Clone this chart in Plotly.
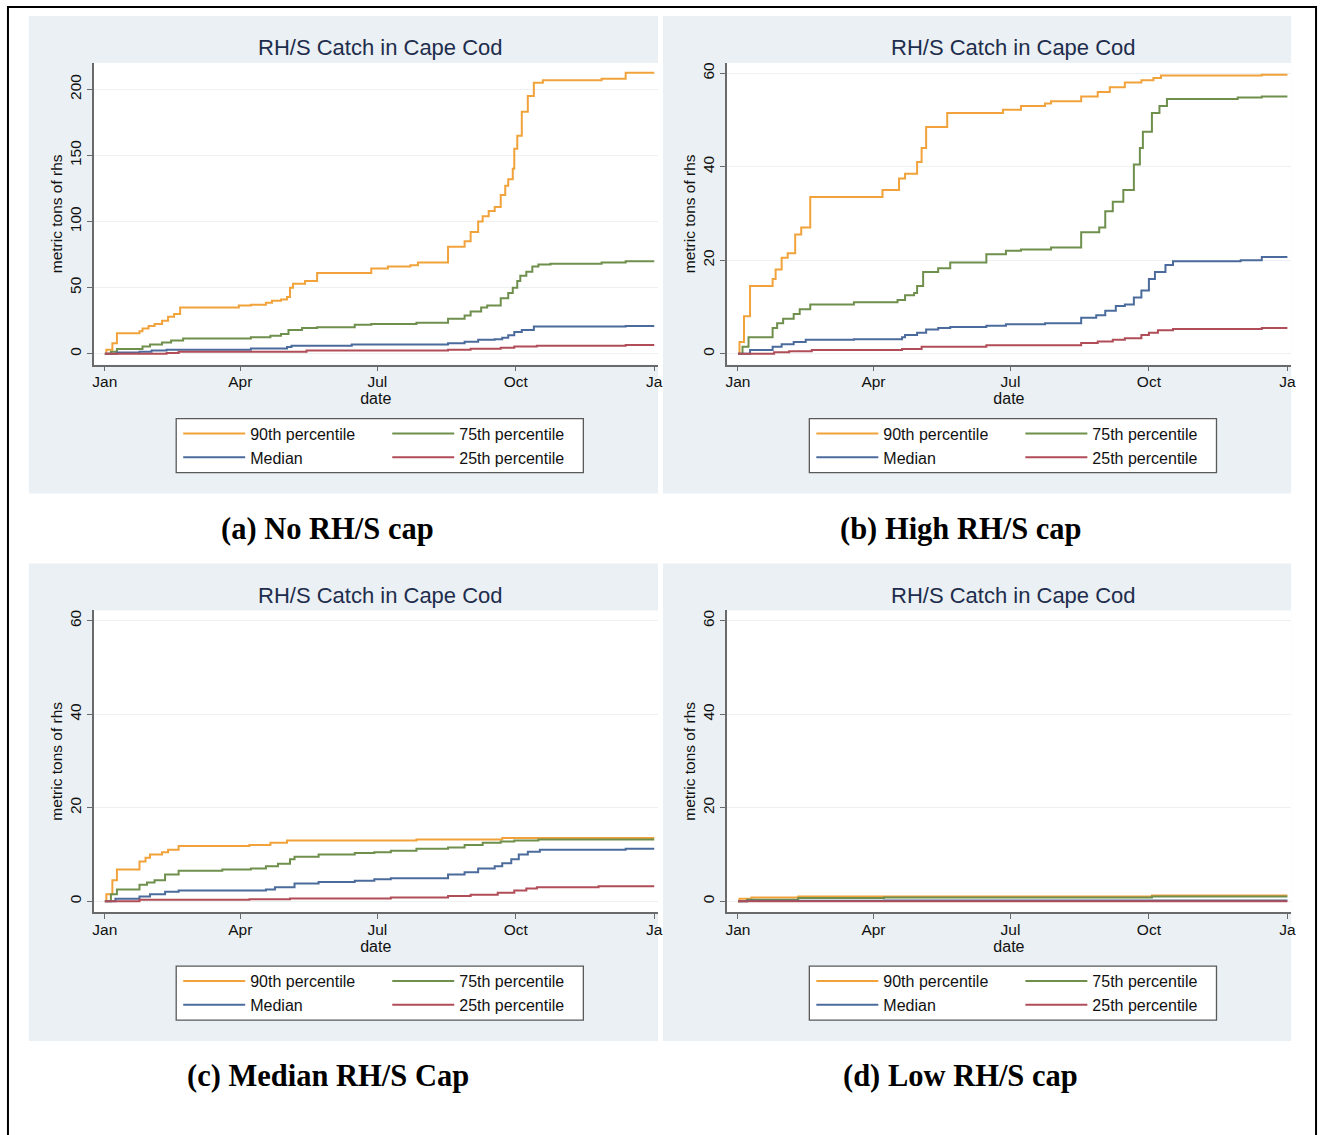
import pandas as pd
import plotly.graph_objects as go

W, H = 1328, 1135
BASE = pd.Timestamp("2015-01-01")

SERIES_NAMES = ["90th percentile", "75th percentile", "Median", "25th percentile"]
SERIES_COLORS = ["#f2a23a", "#6f8f4c", "#4a6b9b", "#b14d58"]

PANEL_TITLES = ["RH/S Catch in Cape Cod"] * 4
CAPTIONS = ["(a) No RH/S cap", "(b) High RH/S cap", "(c) Median RH/S Cap", "(d) Low RH/S cap"]
X_TICK_DATES = ["2015-01-01", "2015-04-01", "2015-07-01", "2015-10-01", "2016-01-01"]
X_TICK_TEXT = ["Jan", "Apr", "Jul", "Oct", "Ja"]
Y_TICKS_A = [0, 50, 100, 150, 200]
Y_TICKS_BCD = [0, 20, 40, 60]

# ---------------- Panel (a) No RH/S cap ----------------
a_p90_day = [0, 1, 5, 8, 23, 25, 29, 33, 38, 42, 46, 50, 89, 97, 107, 111, 117, 121, 123, 125, 133, 141,
             177, 188, 203, 208, 228, 239, 243, 248, 251, 255, 259, 263, 266, 268, 271, 272, 274, 277,
             281, 285, 291, 330, 346, 365]
a_p90_val = [0, 3, 8, 15.5, 17, 19, 21, 22.5, 25, 28, 30, 35, 36.5, 37, 38.5, 40, 41, 43, 50, 53, 55, 61,
             64.5, 66, 67, 69, 81, 85, 92, 100, 104, 108, 111, 120, 127, 132, 140, 155, 165, 183,
             195, 205, 207, 208, 212.5, 212.5]
a_p75_day = [0, 4, 8, 25, 30, 38, 44, 52, 97, 110, 117, 122, 131, 141, 166, 177, 207, 228, 239, 243, 250,
             254, 263, 268, 271, 274, 276, 280, 284, 288, 296, 330, 346, 365]
a_p75_val = [0, 1.5, 3.5, 5.5, 7, 8.5, 10, 11.5, 12.5, 13.5, 15, 18, 19.5, 20, 22, 22.5, 23.5, 26.5, 29, 32, 35,
             36.5, 42, 46, 50, 55, 59, 62, 66, 67.5, 68, 69, 70, 70]
a_p50_day = [0, 8, 23, 31, 41, 97, 121, 124, 164, 228, 239, 248, 259, 264, 268, 272, 277, 285, 346, 365]
a_p50_val = [0, 1, 1.5, 2.5, 3, 4, 5, 6, 7, 8, 9, 10.5, 11, 12, 14, 16.5, 18, 20.5, 21, 21]
a_p25_day = [0, 41, 49, 134, 228, 243, 263, 272, 287, 346, 365]
a_p25_val = [0, 0.5, 1.5, 2.5, 3, 3.8, 4.5, 5.5, 6, 6.5, 6.5]

# ---------------- Panel (b) High RH/S cap ----------------
b_p90_day = [0, 1, 4, 8, 23, 25, 29, 33, 38, 42, 48, 96, 107, 111, 119, 122, 125, 139, 176, 188, 204, 208,
             228, 239, 247, 257, 268, 276, 281, 348, 365]
b_p90_val = [0, 2.5, 8, 14.5, 16, 18, 20.5, 21.5, 25.5, 27, 33.5, 35, 37.5, 38.5, 41, 44, 48.5, 51.5, 52.2, 53,
             53.5, 54, 55, 56, 57, 58, 58.5, 59, 59.5, 59.7, 59.7]
b_p75_day = [0, 3, 7, 23, 26, 30, 37, 41, 48, 77, 106, 111, 117, 119, 123, 133, 141, 165, 178, 188, 208,
             228, 240, 244, 249, 256, 263, 267, 269, 275, 280, 285, 332, 348, 365]
b_p75_val = [0, 1.5, 3.5, 5.5, 6.5, 7.5, 8.5, 9.5, 10.5, 11, 11.5, 12.5, 13, 14.5, 17.5, 18.3, 19.5, 21.3, 22,
             22.3, 22.7, 26, 27, 30.5, 32.5, 35, 40.5, 44, 47.5, 51.5, 53, 54.5, 54.8, 55, 55]
b_p50_day = [0, 8, 23, 29, 37, 45, 77, 109, 111, 119, 125, 133, 141, 165, 178, 204, 228, 238, 244, 251, 257,
             263, 268, 273, 277, 284, 289, 334, 348, 365]
b_p50_val = [0, 0.8, 1.5, 2, 2.5, 3, 3.1, 3.5, 4, 4.5, 5.2, 5.5, 5.7, 6, 6.3, 6.5, 7.7, 8.2, 9.2, 10.2, 10.5,
             12, 13.5, 16, 17.5, 19, 19.8, 20, 20.7, 20.7]
b_p25_day = [0, 24, 34, 49, 109, 122, 165, 228, 239, 249, 257, 268, 273, 279, 289, 348, 365]
b_p25_val = [0, 0.3, 0.5, 0.8, 1, 1.5, 1.8, 2.3, 2.6, 3, 3.3, 4, 4.5, 5, 5.3, 5.5, 5.5]

# ---------------- Panel (c) Median RH/S cap ----------------
c_p90_day = [0, 1, 5, 8, 23, 27, 30, 38, 42, 49, 96, 110, 121, 207, 264, 365]
c_p90_val = [0, 1.5, 4.5, 6.8, 8.5, 9.3, 10, 10.5, 11, 11.8, 12, 12.5, 13, 13.2, 13.5, 13.5]
c_p75_day = [0, 4, 8, 23, 28, 33, 40, 49, 78, 97, 107, 115, 123, 126, 142, 166, 179, 190, 207, 228, 239,
             251, 263, 272, 288, 365]
c_p75_val = [0, 1.5, 2.5, 3.5, 4, 4.5, 5.7, 6.5, 6.8, 7, 7.5, 8, 9, 9.5, 10, 10.3, 10.5, 10.8, 11.2, 11.5,
             12, 12.5, 12.8, 13, 13.2, 13.2]
c_p50_day = [0, 7, 23, 30, 40, 49, 107, 113, 126, 142, 166, 179, 190, 228, 239, 248, 259, 264, 270, 275,
             281, 289, 346, 365]
c_p50_val = [0, 0.5, 1, 1.5, 2, 2.3, 2.5, 3, 3.8, 4.1, 4.4, 4.7, 4.9, 5.7, 6.2, 7, 7.5, 8.1, 9, 10, 10.6,
             11, 11.2, 11.2]
c_p25_day = [0, 23, 96, 123, 190, 228, 243, 261, 272, 280, 287, 328, 365]
c_p25_val = [0, 0.3, 0.4, 0.6, 0.8, 1.1, 1.4, 1.8, 2.3, 2.7, 3, 3.2, 3.2]

# ---------------- Panel (d) Low RH/S cap ----------------
d_p90_day = [0, 1, 9, 40, 275, 365]
d_p90_val = [0, 0.5, 0.8, 1.0, 1.2, 1.2]
d_p75_day = [0, 6, 40, 97, 275, 365]
d_p75_val = [0, 0.3, 0.7, 0.8, 1.0, 1.0]
d_p50_day = [0, 6, 97, 365]
d_p50_val = [0, 0.1, 0.15, 0.15]
d_p25_day = [0, 365]
d_p25_val = [0, 0]

PANELS = [
    [(a_p90_day, a_p90_val), (a_p75_day, a_p75_val), (a_p50_day, a_p50_val), (a_p25_day, a_p25_val)],
    [(b_p90_day, b_p90_val), (b_p75_day, b_p75_val), (b_p50_day, b_p50_val), (b_p25_day, b_p25_val)],
    [(c_p90_day, c_p90_val), (c_p75_day, c_p75_val), (c_p50_day, c_p50_val), (c_p25_day, c_p25_val)],
    [(d_p90_day, d_p90_val), (d_p75_day, d_p75_val), (d_p50_day, d_p50_val), (d_p25_day, d_p25_val)],
]


def px_x(px):
    return px / W


def px_y(py):
    return 1 - py / H


# layout geometry (pixels)
COL_OFF = [0, 636]
ROW_OFF = [0, 548]
PLOT_X = [(93, 660), (729, 1296)]
PANEL_BG_X = [(28, 660), (665, 1296)]

FONT = "Liberation Sans, Arial, sans-serif"
AXIS_COLOR = "#6a6a6a"
PANEL_BG = "#eaf0f3"

fig = go.Figure()
layout = dict(
    width=W, height=H,
    margin=dict(l=0, r=0, t=0, b=0),
    paper_bgcolor="white",
    plot_bgcolor="white",
    showlegend=True,
    font=dict(family=FONT, color="#111111"),
)
shapes = []
annotations = []

x_range = [BASE - pd.Timedelta(days=7.5), BASE + pd.Timedelta(days=367.5)]

for p in range(4):
    col = p % 2
    row = p // 2
    ax = "" if p == 0 else str(p + 1)
    xname, yname = "x" + ax, "y" + ax
    roff = ROW_OFF[row]
    x0, x1 = PLOT_X[col]
    y0, y1 = 62 + roff, 364 + roff

    yticks = Y_TICKS_A if p == 0 else Y_TICKS_BCD
    yrange = [-8.3, 220] if p == 0 else [-2.35, 62.2]

    layout["xaxis" + ax] = dict(
        domain=[px_x(x0), px_x(x1)], anchor=yname, range=x_range, type="date",
        tickvals=X_TICK_DATES, ticktext=X_TICK_TEXT, ticks="outside", ticklen=5,
        tickcolor=AXIS_COLOR, showline=True, linecolor=AXIS_COLOR, linewidth=1.5,
        showgrid=False, zeroline=False, tickfont=dict(size=15.5, color="#111111"),
        ticklabelstandoff=-3,
        title=dict(text="date", font=dict(size=16, color="#111111"), standoff=0),
    )
    layout["yaxis" + ax] = dict(
        domain=[px_y(y1), px_y(y0)], anchor=xname, range=yrange,
        tickvals=yticks, ticks="outside", ticklen=5, tickangle=-90,
        tickcolor=AXIS_COLOR, showline=True, linecolor=AXIS_COLOR, linewidth=1.5,
        showgrid=True, gridcolor="#edf1f3", gridwidth=1, zeroline=False,
        tickfont=dict(size=15.5, color="#111111"),
        title=dict(text="metric tons of rhs", font=dict(size=15.5, color="#111111"), standoff=0),
    )

    # legends: two columns per panel
    lg1 = "legend" if p == 0 else "legend" + str(2 * p + 1)
    lg2 = "legend" + str(2 * p + 2)
    lx = [178 + COL_OFF[col], 388 + COL_OFF[col]]
    for lname, lxx in zip([lg1, lg2], lx):
        layout[lname] = dict(
            x=px_x(lxx), y=px_y(416 + roff), xanchor="left", yanchor="top",
            orientation="v", bgcolor="rgba(0,0,0,0)", borderwidth=0,
            itemwidth=62, font=dict(size=16, family=FONT, color="#111111"),
            tracegroupgap=0,
        )

    for i, (days, vals) in enumerate(PANELS[p]):
        dates = BASE + pd.to_timedelta(days, unit="D")
        fig.add_trace(go.Scatter(
            x=dates, y=vals, mode="lines", name=SERIES_NAMES[i],
            line=dict(color=SERIES_COLORS[i], width=2, shape="hv"),
            xaxis=xname, yaxis=yname,
            legend=(lg1 if i in (0, 2) else lg2),
            showlegend=True,
        ))

    # panel background
    bx0, bx1 = PANEL_BG_X[col]
    shapes.append(dict(type="rect", xref="paper", yref="paper", layer="below",
                       x0=px_x(bx0), x1=px_x(bx1), y0=px_y(493 + roff), y1=px_y(15 + roff),
                       fillcolor=PANEL_BG, line=dict(width=0)))
    # plot region (white)
    shapes.append(dict(type="rect", xref=xname + " domain", yref=yname + " domain", layer="below",
                       x0=0, x1=1, y0=0, y1=1, fillcolor="white", line=dict(width=0)))
    # legend box
    shapes.append(dict(type="rect", xref="paper", yref="paper", layer="below",
                       x0=px_x(176 + COL_OFF[col]), x1=px_x(585 + COL_OFF[col]),
                       y0=px_y(472 + roff), y1=px_y(418 + roff),
                       fillcolor="white", line=dict(color="#5a5a5a", width=1.3)))

    # panel title
    annotations.append(dict(text=PANEL_TITLES[p], xref="paper", yref="paper",
                            x=px_x(381 + COL_OFF[col]), y=px_y(47 + roff), xanchor="center", yanchor="middle",
                            showarrow=False, font=dict(size=22, family=FONT, color="#1e2d4d")))
    # caption
    annotations.append(dict(text="<b>" + CAPTIONS[p] + "</b>", xref="paper", yref="paper",
                            x=px_x(328 + COL_OFF[col]), y=px_y(528 + roff), xanchor="center", yanchor="middle",
                            showarrow=False,
                            font=dict(size=30.5, family="Liberation Serif, Times New Roman, serif", color="#000000")))

# outer frame
shapes.append(dict(type="rect", xref="paper", yref="paper", layer="above",
                   x0=px_x(7), x1=px_x(1321), y0=px_y(1150), y1=px_y(6),
                   fillcolor="rgba(0,0,0,0)", line=dict(color="#000000", width=2)))

layout["shapes"] = shapes
layout["annotations"] = annotations
fig.update_layout(**layout)

fig.write_html(
    "out.html",
    config={"displayModeBar": False, "responsive": False},
    post_script=("document.documentElement.style.margin='0';"
                 "document.documentElement.style.overflow='hidden';"
                 "document.body.style.margin='0';"
                 "document.body.style.overflow='hidden';"),
)
